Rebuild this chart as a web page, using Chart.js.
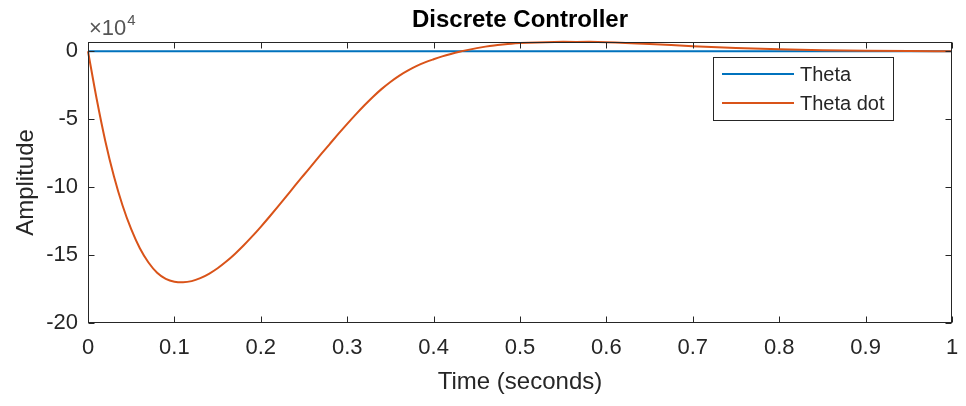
<!DOCTYPE html>
<html>
<head>
<meta charset="utf-8">
<script src="https://cdn.jsdelivr.net/npm/chart.js@4/dist/chart.umd.min.js"></script>
<style>
  html, body { margin: 0; padding: 0; background: #fff; }
  #wrap { width: 966px; height: 406px; }
</style>
</head>
<body>
<div id="wrap"><canvas id="chart"></canvas></div>
<script>
// step response, values in units of 1e4
const time = [0, 0.01, 0.02, 0.03, 0.04, 0.05, 0.06, 0.07, 0.08, 0.09,
              0.10, 0.11, 0.12, 0.13, 0.14, 0.15, 0.16, 0.17, 0.18, 0.19,
              0.20, 0.21, 0.22, 0.23, 0.24, 0.25, 0.26, 0.27, 0.28, 0.29,
              0.30, 0.31, 0.32, 0.33, 0.34, 0.35, 0.36, 0.37, 0.38, 0.39,
              0.40, 0.41, 0.42, 0.43, 0.44, 0.45, 0.46, 0.47, 0.48, 0.49,
              0.50, 0.52, 0.55, 0.58, 0.60, 0.65, 0.70, 0.75, 0.80, 0.85,
              0.90, 0.95, 1.00];
const thetaDot = [0, -3.5, -6.6, -9.2, -11.35, -13.1, -14.5, -15.55, -16.3, -16.75,
                  -16.96, -17.0, -16.92, -16.7, -16.38, -15.97, -15.48, -14.92, -14.3, -13.63,
                  -12.92, -12.18, -11.42, -10.64, -9.86, -9.09, -8.32, -7.56, -6.81, -6.07,
                  -5.35, -4.65, -3.98, -3.35, -2.77, -2.26, -1.81, -1.43, -1.1, -0.82,
                  -0.59, -0.38, -0.2, -0.04, 0.1, 0.23, 0.34, 0.43, 0.5, 0.56,
                  0.6, 0.65, 0.69, 0.69, 0.67, 0.54, 0.36, 0.23, 0.14, 0.08,
                  0.04, 0.015, 0];
const theta = [0, 0, 0, 0, 0, 0, 0, 0, 0, 0,
               0, 0, 0, 0, 0, 0, 0, 0, 0, 0,
               0, 0, 0, 0, 0, 0, 0, 0, 0, 0,
               0, 0, 0, 0, 0, 0, 0, 0, 0, 0,
               0, 0, 0, 0, 0, 0, 0, 0, 0, 0,
               0, 0, 0, 0, 0, 0, 0, 0, 0, 0,
               0, 0, 0];
const xTicks = [0, 0.1, 0.2, 0.3, 0.4, 0.5, 0.6, 0.7, 0.8, 0.9, 1];
const yTicks = [-20, -15, -10, -5, 0];
const yMin = -20;
const yMax = 0.68;

const FONT = '"Liberation Sans", Arial, Helvetica, sans-serif';
const AXIS = '#262626';
const BLUE = '#0072BD';
const ORANGE = '#D95319';

function points(ys) {
    return time.map(function (t, i) { return { x: t, y: ys[i] }; });
}

// MATLAB-looking frame: box, inward ticks on all sides, title, exponent, legend
const matlabFrame = {
    id: 'matlabFrame',
    afterDraw: function (chart) {
        const ctx = chart.ctx;
        const a = chart.chartArea;
        const sx = chart.scales.x;
        const sy = chart.scales.y;
        const L = Math.round(a.left) + 0.5, R = Math.round(a.right) - 0.5;
        const T = Math.round(a.top) + 0.5, B = Math.round(a.bottom) - 0.5;
        ctx.save();
        ctx.strokeStyle = AXIS;
        ctx.lineWidth = 1;
        ctx.strokeRect(L, T, R - L, B - T);
        ctx.beginPath();
        xTicks.forEach(function (v) {
            const px = Math.round(sx.getPixelForValue(v)) + 0.5;
            ctx.moveTo(px, B); ctx.lineTo(px, B - 6);
            ctx.moveTo(px, T); ctx.lineTo(px, T + 6);
        });
        yTicks.forEach(function (v) {
            const py = Math.round(sy.getPixelForValue(v)) + 0.5;
            ctx.moveTo(L, py); ctx.lineTo(L + 6, py);
            ctx.moveTo(R, py); ctx.lineTo(R - 6, py);
        });
        ctx.stroke();

        // title
        ctx.fillStyle = '#000';
        ctx.font = 'bold 24px ' + FONT;
        ctx.textAlign = 'center';
        ctx.textBaseline = 'middle';
        ctx.fillText('Discrete Controller', (a.left + a.right) / 2, 20);

        // exponent label
        ctx.fillStyle = '#555';
        ctx.textAlign = 'left';
        ctx.textBaseline = 'alphabetic';
        ctx.font = '22px ' + FONT;
        ctx.fillText('×10', a.left + 1, 35);
        const w = ctx.measureText('×10').width;
        ctx.font = '15px ' + FONT;
        ctx.fillText('4', a.left + 1 + w + 1, 25);

        // legend
        const bw = 180, bh = 63;
        const bx = a.right - 59 - bw, by = a.top + 15;
        ctx.fillStyle = '#fff';
        ctx.fillRect(bx, by, bw, bh);
        ctx.strokeStyle = AXIS;
        ctx.lineWidth = 1;
        ctx.strokeRect(Math.round(bx) + 0.5, Math.round(by) + 0.5, bw, bh);
        ctx.font = '20px ' + FONT;
        ctx.textBaseline = 'middle';
        chart.data.datasets.forEach(function (ds, i) {
            const ry = by + 17 + i * 29;
            ctx.strokeStyle = ds.borderColor;
            ctx.lineWidth = 2;
            ctx.beginPath();
            ctx.moveTo(bx + 9, ry);
            ctx.lineTo(bx + 81, ry);
            ctx.stroke();
            ctx.fillStyle = AXIS;
            ctx.fillText(ds.label, bx + 87, ry + 1);
        });
        ctx.restore();
    }
};

new Chart(document.getElementById('chart'), {
    type: 'line',
    data: {
        datasets: [
            { label: 'Theta', data: points(theta), borderColor: BLUE, order: 2 },
            { label: 'Theta dot', data: points(thetaDot), borderColor: ORANGE, order: 1 },
        ],
    },
    options: {
        responsive: true,
        maintainAspectRatio: false,
        animation: false,
        layout: { padding: { top: 42, right: 14, left: 0, bottom: 0 } },
        elements: {
            line: { borderWidth: 2, cubicInterpolationMode: 'monotone', fill: false },
            point: { radius: 0 },
        },
        datasets: { line: { clip: false } },
        plugins: {
            legend: { display: false },
            tooltip: { enabled: false },
        },
        scales: {
            x: {
                type: 'linear',
                min: 0,
                max: 1,
                grid: { display: false, drawTicks: false },
                border: { display: false },
                afterBuildTicks: function (scale) {
                    scale.ticks = xTicks.map(function (v) { return { value: v }; });
                },
                afterFit: function (scale) {
                    scale.height = 83;
                    scale.paddingLeft = 0;
                    scale.paddingRight = 0;
                },
                ticks: {
                    padding: 12,
                    color: AXIS,
                    font: { family: FONT, size: 22 },
                    maxRotation: 0,
                    autoSkip: false,
                    callback: function (v) { return String(v); },
                },
                title: {
                    display: true,
                    text: 'Time (seconds)',
                    color: AXIS,
                    font: { family: FONT, size: 24 },
                    padding: { top: 0, bottom: 9 },
                },
            },
            y: {
                type: 'linear',
                min: yMin,
                max: yMax,
                grid: { display: false, drawTicks: false },
                border: { display: false },
                afterBuildTicks: function (scale) {
                    scale.ticks = yTicks.map(function (v) { return { value: v }; });
                },
                afterFit: function (scale) { scale.width = 88; },
                ticks: {
                    padding: 10,
                    color: AXIS,
                    font: { family: FONT, size: 22 },
                    autoSkip: false,
                    callback: function (v) { return String(v); },
                },
                title: {
                    display: true,
                    text: 'Amplitude',
                    color: AXIS,
                    font: { family: FONT, size: 24 },
                    padding: { top: 12, bottom: 0 },
                },
            },
        },
    },
    plugins: [matlabFrame],
});
</script>
</body>
</html>
